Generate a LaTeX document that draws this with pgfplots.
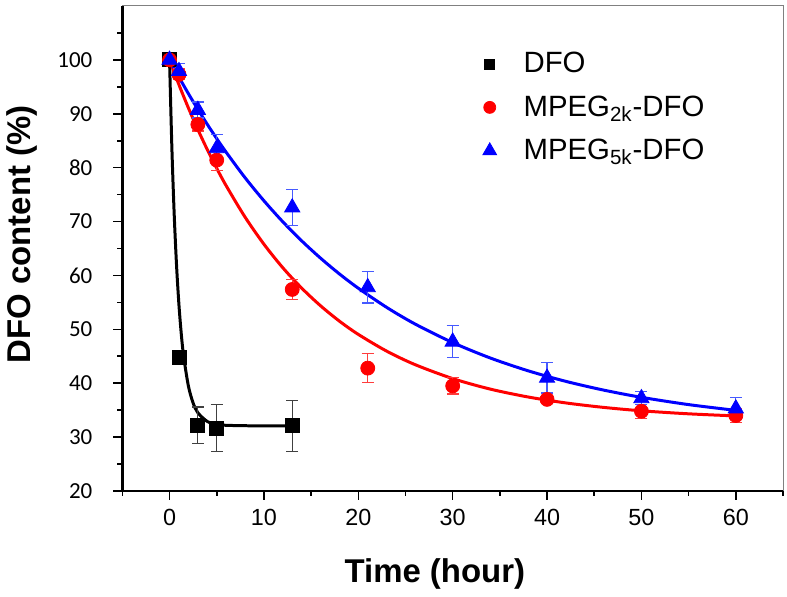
\documentclass[border=0pt]{standalone}
\usepackage{fontspec}
\setmainfont{Liberation Sans}
\newfontfamily\ytickfont{Carlito}
\usepackage{pgfplots}
\pgfplotsset{compat=1.18}
\usepackage{pgfplotstable}

% measured points: x, y, error
\pgfplotstableread{
x y e
0 100 0
1 44.8 0
3 32.2 3.4
5 31.7 4.4
13 32.1 4.7
}\dfo
\pgfplotstableread{
x y e
0 100 0.5
1 97.3 1.0
3 88.0 1.2
5 81.4 2.0
13 57.4 1.9
21 42.8 2.7
30 39.5 1.5
40 37.0 0.7
50 34.8 1.3
60 34.0 1.3
}\mpegtwo
\pgfplotstableread{
x y e
0 100 0.5
1 97.9 1.4
3 90.7 1.5
5 83.6 2.5
13 72.6 3.3
21 57.8 2.9
30 47.7 3.0
40 41.0 2.8
50 37.2 1.2
60 35.3 2.0
}\mpegfive

\definecolor{errblue}{RGB}{70,90,255}
\definecolor{errred}{RGB}{255,60,60}

\begin{document}
\begin{tikzpicture}
\begin{axis}[
    scale only axis,
    width=331pt, height=243pt,
    xmin=-5, xmax=65,
    ymin=20, ymax=110,
    xtick={0,10,...,60},
    minor xtick={-5,5,...,65},
    ytick={20,30,...,100},
    minor ytick={25,35,...,105},
    axis lines*=left,
    axis line style={line width=1.25pt},
    tick align=outside,
    major tick length=4.5pt,
    minor tick length=2.5pt,
    every tick/.style={black, line width=0.8pt},
    clip=false,
    /pgf/number format/assume math mode=true,
    xticklabel style={font=\fontsize{11.7}{14}\selectfont, yshift=-1pt},
    yticklabel style={font=\ytickfont\fontsize{11.5}{14}\selectfont, xshift=-7pt},
    xlabel={Time (hour)},
    ylabel={DFO content (\%)},
    every axis x label/.style={at={(axis description cs:0.473,-0.189)}, anchor=base,
        font=\bfseries\fontsize{16.5}{20}\selectfont},
    every axis y label/.style={at={(axis description cs:-0.139,0.529)}, rotate=90, anchor=base,
        font=\bfseries\fontsize{16.5}{20}\selectfont},
    legend style={draw=none, fill=none, at={(rel axis cs:0.536,0.922)}, anchor=north west,
        font=\fontsize{14.7}{18}\selectfont, row sep=6pt, column sep=11.5pt},
    legend cell align=left,
]
% fitted decay curves
\addplot[black, line width=1.5pt, smooth, forget plot] coordinates {
    (0,100) (0.25,83.53) (0.5,71.06) (0.75,61.61) (1,54.45) (1.25,49.03)
    (1.5,44.93) (2,39.46) (2.5,36.32) (3,34.52) (4,32.90) (5,32.36)
    (6,32.19) (8,32.11) (10,32.10) (13,32.10)
};
\addplot[red, line width=1.5pt, smooth, forget plot] coordinates {
    (0,100) (1,95.38) (2,91.08) (3,87.08) (4,83.35) (5,79.88) (6,76.65)
    (8,70.83) (10,65.80) (12,61.43) (14,57.65) (16,54.37) (18,51.52)
    (20,49.06) (23,45.96) (26,43.46) (30,40.86) (34,38.90) (38,37.44)
    (42,36.34) (46,35.51) (50,34.88) (55,34.32) (60,33.93)
};
\addplot[blue, line width=1.5pt, smooth, forget plot] coordinates {
    (0,100) (1,96.79) (2,93.73) (3,90.82) (4,88.04) (5,85.39) (6,82.86)
    (8,78.14) (10,73.86) (12,69.96) (14,66.42) (16,63.21) (18,60.28)
    (20,57.63) (23,54.08) (26,51.00) (30,47.54) (34,44.67) (38,42.30)
    (42,40.34) (46,38.72) (50,37.38) (55,36.03) (60,34.96)
};
% data points with error bars
\addplot[only marks, mark=square*, mark size=3.5pt, black,
    legend image post style={mark size=2.5pt},
    error bars/.cd, y dir=both, y explicit,
    error bar style={line width=0.6pt, black!75},
    error mark options={rotate=90, mark size=3pt, line width=0.6pt, black!75}]
    table[x=x, y=y, y error=e] {\dfo};
\addlegendentry{DFO}
\addplot[only marks, mark=*, mark size=3.5pt, red,
    legend image post style={mark size=3pt},
    error bars/.cd, y dir=both, y explicit,
    error bar style={line width=0.6pt, errred},
    error mark options={rotate=90, mark size=3pt, line width=0.6pt, errred}]
    table[x=x, y=y, y error=e] {\mpegtwo};
\addlegendentry{MPEG\textsubscript{2k}-DFO}
\addplot[only marks, mark=triangle*, mark size=4.4pt, blue,
    legend image post style={mark size=4pt},
    error bars/.cd, y dir=both, y explicit,
    error bar style={line width=0.6pt, errblue},
    error mark options={rotate=90, mark size=3pt, line width=0.6pt, errblue}]
    table[x=x, y=y, y error=e] {\mpegfive};
\addlegendentry{MPEG\textsubscript{5k}-DFO}
% thin frame on top and right
\draw[gray, line width=0.5pt] (rel axis cs:0,1) -- (rel axis cs:1,1) -- (rel axis cs:1,0);
% fix the margins round the axis
\path (rel axis cs:0,0) ++(-60.5pt,-51.5pt) coordinate (bbsw);
\path (rel axis cs:1,1) ++(2pt,3pt) coordinate (bbne);
\path[draw=none] (bbsw) rectangle (bbne);
\end{axis}
\end{tikzpicture}
\end{document}
